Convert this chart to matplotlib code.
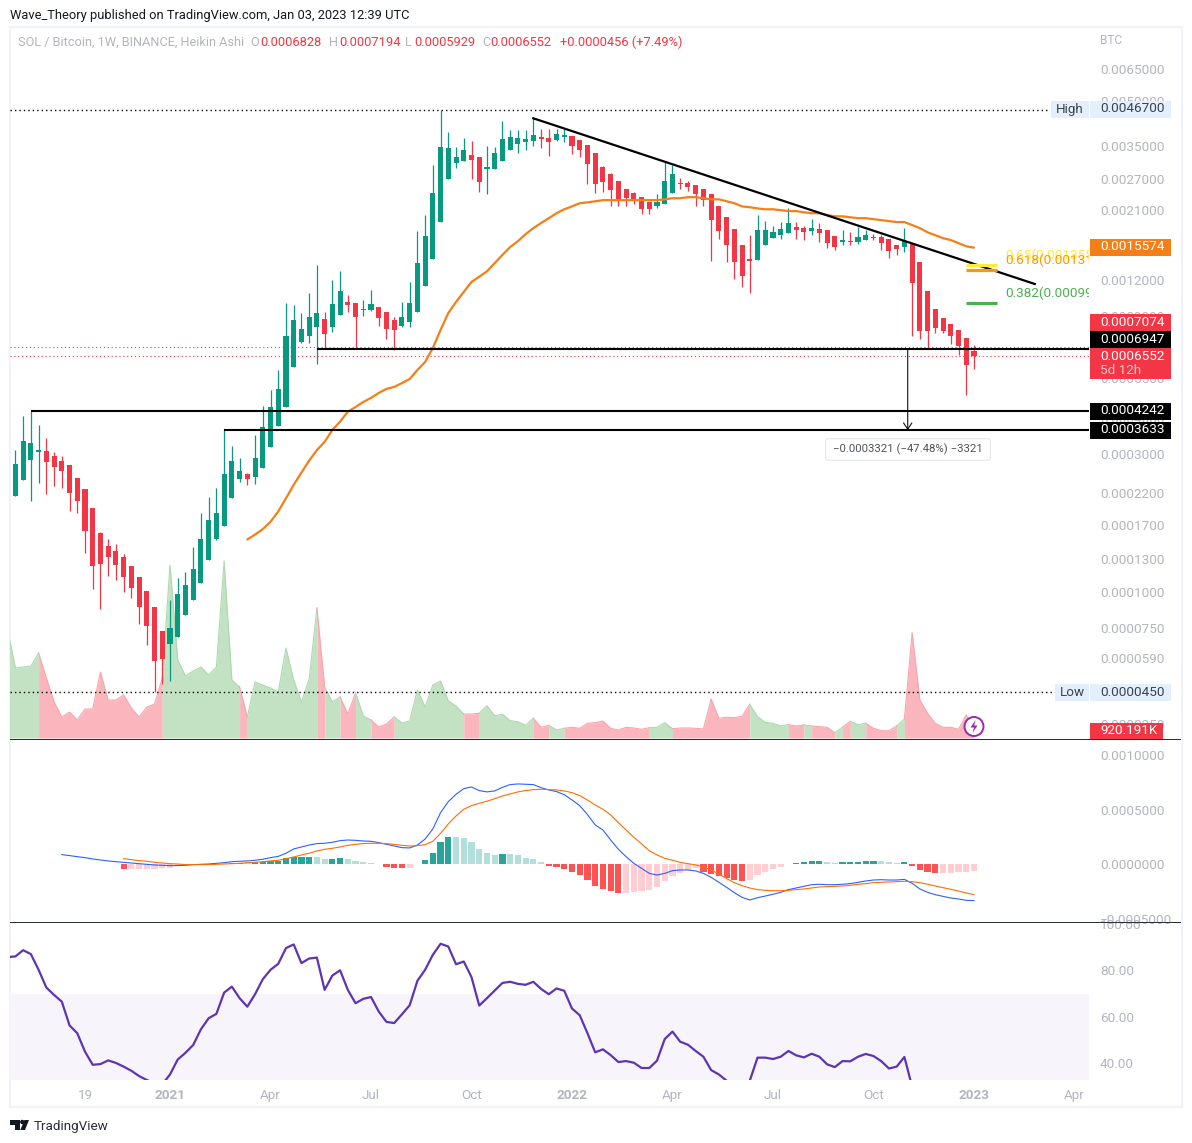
#!/usr/bin/env python3
"""SOL/BTC weekly Heikin Ashi chart with volume, MACD and RSI panes (TradingView look)."""
import numpy as np
import pandas as pd
import matplotlib
matplotlib.use("Agg")
import matplotlib.pyplot as plt
import matplotlib.dates as mdates
from matplotlib.patches import Rectangle, FancyBboxPatch, Circle, Polygon
from matplotlib.ticker import NullLocator

W, H = 1192, 1143
plt.rcParams["font.family"] = ["Roboto", "DejaVu Sans"]

# ---------- data (prices in 1e-4 BTC, first candle is cut by the left edge) ----------
week_dates = pd.date_range("2020-08-10", periods=126, freq="7D")

opens = [1.63, 2.15, 2.45, 2.87, 3.05, 3.08, 2.95, 2.85, 2.76, 2.49,
         2.28, 1.96, 1.60, 1.44, 1.39, 1.32, 1.23, 1.13, 1.01, 0.89,
         0.735, 0.66, 0.70, 0.835, 0.94, 1.07, 1.29, 1.53, 1.69, 2.12,
         2.47, 2.57, 2.51, 2.69, 3.18, 3.77, 4.37, 6.03, 7.34, 7.70,
         8.28, 8.82, 8.28, 9.1, 10.1, 10.0, 9.475, 9.475, 9.7, 9.32,
         8.75, 8.34, 8.61, 9.32, 11.47, 14.2, 19.1, 26.9, 30.55, 31.05,
         32.6, 32.1, 29.1, 29.1, 31.05, 33.9, 35.6, 36.2, 36.45, 37.6,
         37.3, 36.75, 37.6, 37.9, 36.75, 35.3, 33.1, 29.6, 28.0, 26.5,
         24.85, 24.05, 23.3, 22.35, 21.65, 22.0, 24.05, 26.1, 26.1, 25.65,
         24.85, 23.9, 21.65, 19.95, 18.05, 15.95, 14.2, 14.1, 15.9, 16.8,
         17.2, 17.5, 18.3, 18.2, 17.75, 18.05, 17.9, 17.05, 16.3, 16.4,
         16.3, 16.55, 17.0, 17.0, 16.7, 15.9, 15.65, 16.15, 13.85, 11.0,
         9.55, 8.9, 8.45, 8.08, 7.6, 6.828]
highs = [2.71, 3.10, 4.07, 4.24, 3.80, 3.41, 3.05, 2.95, 2.76, 2.49,
         2.28, 1.96, 1.61, 1.52, 1.46, 1.35, 1.23, 1.13, 1.01, 0.89,
         0.735, 0.94, 1.12, 1.17, 1.43, 1.88, 2.13, 2.30, 3.67, 3.20,
         2.92, 2.59, 3.50, 4.41, 5.01, 5.87, 10.0, 9.86, 9.25, 10.84,
         13.55, 9.32, 12.04, 12.9, 10.68, 10.0, 10.26, 11.11, 9.7, 9.32,
         8.96, 10.1, 11.85, 17.75, 20.2, 30.1, 46.7, 39.2, 34.8, 37.3,
         36.45, 32.1, 35.0, 34.8, 42.8, 39.8, 39.8, 39.8, 43.7, 40.1,
         40.1, 40.1, 40.1, 37.9, 36.75, 35.3, 33.1, 29.85, 28.2, 26.5,
         24.85, 24.25, 23.3, 22.35, 23.9, 30.8, 30.1, 27.1, 26.5, 25.65,
         24.85, 23.9, 21.65, 19.95, 18.05, 15.95, 17.2, 20.2, 19.25, 18.45,
         19.1, 21.35, 19.1, 18.45, 19.55, 18.95, 17.9, 17.05, 17.9, 17.6,
         18.3, 17.9, 17.35, 17.2, 16.7, 15.9, 18.2, 16.15, 13.85, 11.0,
         9.55, 8.9, 8.45, 8.08, 7.6, 7.194]
lows = [1.63, 2.15, 2.45, 2.06, 2.39, 2.19, 2.33, 2.30, 1.91, 1.87,
        1.36, 1.02, 0.87, 1.14, 1.10, 1.00, 0.955, 0.775, 0.655, 0.45,
        0.48, 0.49, 0.70, 0.835, 0.94, 1.07, 1.29, 1.51, 1.69, 2.12,
        2.41, 2.35, 2.37, 2.69, 3.18, 3.77, 4.37, 6.03, 7.28, 7.28,
        6.16, 7.0, 7.95, 9.1, 9.32, 7.0, 9.03, 9.40, 8.34, 7.52,
        6.89, 8.28, 8.28, 9.32, 11.47, 14.2, 19.1, 26.9, 29.4, 31.05,
        26.9, 24.25, 23.9, 29.1, 31.05, 33.9, 33.1, 33.9, 35.0, 34.5,
        32.4, 36.45, 36.2, 32.85, 32.1, 25.9, 24.05, 24.25, 21.8, 21.8,
        21.8, 22.0, 20.35, 20.35, 21.3, 22.0, 24.05, 24.85, 24.45, 21.8,
        21.8, 14.0, 16.7, 13.85, 12.15, 11.35, 10.85, 14.1, 15.9, 16.8,
        16.7, 17.5, 16.7, 16.55, 17.2, 16.3, 15.5, 15.3, 15.9, 15.9,
        16.0, 16.55, 16.55, 15.3, 14.3, 14.7, 15.05, 7.7, 7.52, 7.0,
        7.9, 7.9, 7.2, 6.6, 4.8, 5.929]
closes = [2.71, 2.78, 3.33, 3.28, 3.10, 2.82, 2.71, 2.63, 2.21, 2.06,
          1.63, 1.23, 1.25, 1.32, 1.24, 1.13, 1.03, 0.885, 0.765, 0.575,
          0.584, 0.75, 0.98, 1.06, 1.20, 1.53, 1.78, 1.88, 2.57, 2.85,
          2.63, 2.47, 2.92, 3.73, 4.37, 5.05, 7.70, 8.75, 8.15, 8.96,
          9.25, 7.82, 9.93, 11.02, 9.86, 8.96, 9.55, 9.93, 8.89, 8.15,
          8.08, 8.96, 10.0, 13.77, 17.06, 24.05, 34.8, 34.5, 32.1, 33.9,
          31.3, 26.3, 29.6, 33.1, 37.0, 37.6, 37.3, 37.0, 38.2, 37.0,
          36.2, 38.6, 38.2, 35.0, 33.9, 30.35, 25.9, 26.3, 24.65, 22.95,
          23.1, 22.55, 21.15, 21.15, 22.35, 26.5, 28.0, 25.9, 25.25, 23.9,
          22.75, 19.4, 17.75, 15.95, 13.85, 12.4, 14.0, 17.9, 17.9, 17.6,
          18.05, 18.95, 17.9, 17.6, 18.2, 17.5, 16.15, 15.65, 16.55, 16.3,
          17.0, 17.2, 16.8, 16.15, 15.2, 15.4, 16.4, 11.75, 8.0, 8.0,
          8.2, 8.0, 7.7, 7.1, 6.1, 6.552]
# volume, in thousands
volumes = [16520, 10710, 10860, 11020, 13000, 9180, 5510, 3210, 3980, 2750,
           4440, 4440, 10100, 5810, 5810, 6580, 4590, 3210, 4740, 5200,
           9180, 26470, 11930, 9490, 10250, 10860, 9640, 10860, 27080, 8870,
           7800, 3210, 8570, 8110, 7650, 7040, 13770, 8870, 5510, 9030,
           19890, 7800, 5510, 6270, 3670, 6890, 3370, 2750, 1680, 2140,
           3210, 2300, 2600, 7340, 4740, 8110, 8720, 5660, 4900, 3670,
           3670, 3780, 4940, 3410, 3630, 2650, 2490, 1940, 3010, 1640,
           1940, 1220, 1480, 1640, 1480, 2250, 2340, 2600, 1480, 1220,
           1640, 1530, 1330, 1580, 1640, 2340, 1420, 1530, 1530, 1480,
           1380, 5970, 3010, 3170, 3110, 3320, 5160, 3260, 2400, 2250,
           1840, 2030, 1840, 1990, 1840, 1730, 1640, 810, 1640, 2550,
           2030, 2250, 1480, 1120, 1120, 1840, 2910, 16110, 5810, 3780,
           2250, 1640, 1640, 1330, 3560, 920.191]
# moving average, last 95 weeks
ma_line = [1.52, 1.58, 1.65, 1.75, 1.90, 2.11, 2.35, 2.59, 2.85, 3.10,
           3.31, 3.64, 3.89, 4.21, 4.37, 4.55, 4.70, 4.89, 5.05, 5.13,
           5.29, 5.46, 5.87, 6.26, 7.0, 8.08, 9.25, 10.1, 10.94, 11.85,
           12.35, 12.9, 13.77, 14.7, 15.65, 16.4, 17.35, 18.2, 18.95, 19.7,
           20.5, 21.15, 21.65, 22.2, 22.35, 22.55, 22.75, 22.75, 22.75, 22.75,
           22.75, 22.75, 22.75, 22.75, 22.9, 23.1, 23.1, 23.3, 23.3, 23.1,
           22.9, 22.9, 22.55, 22.2, 21.65, 21.5, 21.3, 21.15, 21.15, 21.0,
           20.85, 20.85, 20.65, 20.5, 20.5, 20.2, 20.0, 20.0, 19.85, 19.7,
           19.7, 19.55, 19.4, 19.25, 19.1, 19.1, 18.65, 18.2, 17.6, 17.2,
           16.8, 16.55, 16.15, 15.75, 15.574]
# MACD in 1e-4, last 119 weeks
macd_line = [0.89, 0.80, 0.70, 0.61, 0.49, 0.40, 0.31, 0.24, 0.18, 0.12,
             0.06, 0.0, -0.06, -0.09, -0.12, -0.12, -0.09, -0.03, 0.0, 0.03,
             0.09, 0.15, 0.24, 0.28, 0.31, 0.37, 0.46, 0.61, 0.73, 1.01,
             1.41, 1.59, 1.77, 1.90, 1.93, 2.02, 2.17, 2.23, 2.20, 2.14,
             2.11, 1.99, 1.83, 1.68, 1.53, 1.50, 1.77, 2.32, 3.24, 4.74,
             5.75, 6.42, 6.94, 7.09, 6.76, 6.64, 6.73, 7.06, 7.31, 7.37,
             7.34, 7.31, 7.03, 6.82, 6.67, 6.39, 5.90, 5.38, 4.56, 3.61,
             3.15, 2.23, 1.38, 0.70, 0.09, -0.37, -0.83, -0.98, -0.83, -0.58,
             -0.52, -0.52, -0.61, -0.83, -1.19, -1.65, -2.11, -2.60, -3.03, -3.27,
             -3.06, -2.91, -2.75, -2.57, -2.32, -2.17, -2.02, -1.87, -1.83, -1.87,
             -1.87, -1.83, -1.77, -1.65, -1.53, -1.44, -1.41, -1.44, -1.44, -1.38,
             -1.74, -2.26, -2.57, -2.78, -2.94, -3.09, -3.18, -3.30, -3.33]
# signal and histogram, last 111 weeks
signal_line = [0.52, 0.43, 0.34, 0.28, 0.18, 0.12, 0.06, 0.03, -0.03, -0.03,
               -0.03, -0.03, 0.0, 0.03, 0.06, 0.09, 0.15, 0.18, 0.24, 0.31,
               0.37, 0.52, 0.67, 0.86, 1.01, 1.22, 1.38, 1.47, 1.59, 1.74,
               1.83, 1.90, 1.93, 1.93, 1.90, 1.83, 1.74, 1.68, 1.71, 1.80,
               2.11, 2.84, 3.70, 4.43, 5.05, 5.38, 5.60, 5.78, 6.02, 6.27,
               6.45, 6.64, 6.76, 6.85, 6.88, 6.85, 6.82, 6.73, 6.57, 6.30,
               5.90, 5.44, 5.05, 4.53, 3.82, 3.15, 2.48, 1.87, 1.25, 0.86,
               0.55, 0.37, 0.18, 0.06, -0.06, -0.24, -0.52, -0.89, -1.31, -1.68,
               -1.96, -2.17, -2.32, -2.39, -2.42, -2.42, -2.39, -2.32, -2.26, -2.17,
               -2.08, -2.05, -2.02, -1.99, -1.93, -1.83, -1.77, -1.68, -1.65, -1.62,
               -1.59, -1.56, -1.59, -1.68, -1.83, -1.99, -2.14, -2.29, -2.45, -2.63,
               -2.78]
macd_hist = [-0.43, -0.43, -0.43, -0.43, -0.43, -0.34, -0.34, -0.15, -0.09, -0.05,
             -0.03, -0.02, 0.03, 0.06, 0.09, 0.09, 0.15, 0.21, 0.24, 0.31,
             0.34, 0.55, 0.70, 0.70, 0.70, 0.70, 0.49, 0.49, 0.58, 0.49,
             0.31, 0.21, 0.12, 0.03, -0.21, -0.34, -0.34, -0.34, 0.03, 0.40,
             1.04, 2.05, 2.51, 2.51, 2.42, 2.05, 1.41, 1.04, 0.86, 0.95,
             0.95, 0.86, 0.58, 0.49, 0.21, -0.15, -0.24, -0.43, -0.70, -0.98,
             -1.44, -1.99, -2.26, -2.45, -2.63, -2.63, -2.54, -2.45, -2.35, -2.08,
             -1.53, -1.07, -0.80, -0.52, -0.34, -0.70, -0.89, -1.07, -1.25, -1.44,
             -1.53, -1.44, -0.98, -0.70, -0.43, -0.24, 0.03, 0.12, 0.21, 0.31,
             0.31, 0.21, 0.12, 0.21, 0.21, 0.21, 0.31, 0.31, 0.31, 0.21,
             0.12, 0.21, -0.15, -0.52, -0.70, -0.80, -0.80, -0.80, -0.70, -0.70,
             -0.61]
hist_tags = ("r" + "p" * 11 + "g" * 4 + "l" + "g" * 8 + "l" * 2 + "g" * 2 + "l" * 5
             + "r" * 3 + "p" + "g" * 5 + "l" * 6 + "g" + "l" * 5 + "r" * 10 + "p" * 10
             + "r" * 6 + "p" * 5 + "g" * 5 + "l" * 2 + "g" * 5 + "l" * 3 + "g"
             + "r" * 4 + "p" * 5)
rsi_line = [85.8, 86.1, 88.8, 87.1, 80.3, 72.6, 69.4, 66.5, 56.2, 52.8,
            44.8, 39.1, 39.4, 41.0, 39.9, 38.3, 36.5, 34.2, 32.5, 31.0,
            30.6, 34.9, 41.4, 44.3, 47.7, 54.5, 59.3, 61.2, 70.4, 73.0,
            68.0, 64.3, 69.7, 76.2, 80.3, 82.9, 89.7, 91.3, 83.2, 85.2,
            85.6, 71.6, 77.8, 80.1, 71.6, 65.8, 67.7, 68.5, 62.2, 57.7,
            57.2, 61.0, 64.9, 75.5, 80.3, 86.8, 91.6, 90.4, 82.7, 83.9,
            77.1, 64.8, 68.0, 71.3, 74.6, 75.1, 74.2, 73.8, 75.1, 72.0,
            69.7, 72.2, 71.2, 63.5, 60.6, 52.8, 44.5, 45.8, 43.3, 40.3,
            40.7, 40.0, 37.7, 37.7, 40.9, 50.3, 53.5, 49.1, 47.8, 45.1,
            42.6, 36.8, 34.9, 32.2, 28.1, 26.7, 32.2, 42.2, 42.2, 41.6,
            42.6, 45.1, 43.2, 42.3, 43.9, 42.6, 39.3, 38.1, 40.7, 40.6,
            42.6, 43.8, 42.9, 40.7, 37.5, 38.3, 42.5, 29.6, 27.0, 26.0,
            25.0, 25.0, 25.0, 24.0, 23.0, 24.0]

price_ticks = [0.0065, 0.005, 0.0035, 0.0027, 0.0021, 0.0016, 0.0012, 0.0009, 0.0007,
               0.00055, 0.0004, 0.0003, 0.00022, 0.00017, 0.00013, 0.0001, 0.000075,
               0.000059, 0.000045, 0.000035]
macd_ticks = [0.001, 0.0005, 0.0, -0.0005]
rsi_ticks = [100, 80, 60, 40]
time_ticks = ["2020-10-19", "2021-01-04", "2021-04-05", "2021-07-05", "2021-10-04", "2022-01-03",
              "2022-04-04", "2022-07-04", "2022-10-03", "2023-01-02", "2023-04-03"]
time_labels = ["19", "2021", "Apr", "Jul", "Oct", "2022", "Apr", "Jul", "Oct", "2023", "Apr"]

fib_levels = [("0.65(0.0013558)", 0.001352, "#ffeb3b", 255),
              ("0.618(0.0013138)", 0.001303, "#ff9800", 260),
              ("0.382(0.0009946)", 0.000998, "#4caf50", 293)]
all_high, all_low = 0.00467, 0.000045
last_close, prev_level = 0.0006552, 0.0007074
supports = [(0.0006947, "2021-05-17"), (0.0004242, "2020-08-31"), (0.0003633, "2021-02-22")]

# ---------- colours ----------
UP = "#089981"; DOWN = "#f23645"; GREY = "#b2b5be"; INK = "#131722"
VOL_UP = "#c3e2c4"; VOL_DOWN = "#fab6bc"; VOL_UP_E = "#add8af"; VOL_DOWN_E = "#f7a5ad"
HIST = {"g": "#26a69a", "l": "#b2dfdb", "r": "#ff5252", "p": "#ffcdd2"}
TAG_BLUE = "#e3effd"; FS = 9.7

x = mdates.date2num(week_dates)
o, h, l, c = [np.array(a) * 1e-4 for a in (opens, highs, lows, closes)]
vol = np.array(volumes)
is_up = c >= o
cols = [UP if u else DOWN for u in is_up]

fig = plt.figure(figsize=(W / 100, H / 100), dpi=100, facecolor="white")
T = fig.transFigure


def pane(x0, y0, x1, y1, **kw):
    return fig.add_axes([x0 / W, 1 - y1 / H, (x1 - x0) / W, (y1 - y0) / H], **kw)


def rect(x0, y0, x1, y1, z=10, **kw):
    fig.add_artist(Rectangle((x0 / W, 1 - y1 / H), (x1 - x0) / W, (y1 - y0) / H,
                             transform=T, zorder=z, **kw))


def txt(px, py, s, color=GREY, size=FS, z=11, **kw):
    kw.setdefault("va", "center")
    fig.text(px / W, 1 - py / H, s, color=color, fontsize=size, zorder=z, **kw)


def clean(ax):
    for sp in ax.spines.values():
        sp.set_visible(False)
    ax.set_facecolor("none")
    ax.tick_params(length=0)
    ax.set_xlim(mdates.date2num(pd.Timestamp("2023-01-02")) - 124.7 * 7,
                mdates.date2num(pd.Timestamp("2023-01-02")) + 14.88 * 7)


def right_ticks(ax, ticks, labels):
    ax.yaxis.tick_right()
    ax.set_yticks(ticks)
    ax.set_yticklabels(labels, color=GREY, fontsize=FS, va="center_baseline")
    ax.yaxis.set_minor_locator(NullLocator())
    ax.tick_params(axis="y", pad=7.9, length=0)
    ax.set_xticks([])


# ---------- frame ----------
rect(9.5, 26.5, 1181.5, 1107, z=-1, facecolor="white", edgecolor="#f0f3fa", linewidth=1.6)

# ---------- volume: each stretch of same-coloured candles is one fill ----------
ax_vol = pane(10, 28, 1089, 739, zorder=1)
clean(ax_vol)
ax_vol.set_ylim(-153, 710 * 153)
start = 0
for i in range(1, len(x) + 1):
    if i == len(x) or is_up[i] != is_up[start + 1 if start + 1 < len(x) else start]:
        if i > start:
            run_up = is_up[start + 1 if start + 1 < len(x) else start]
            ax_vol.fill_between(x[start:i], 0, vol[start:i], color=VOL_UP if run_up else VOL_DOWN,
                                linewidth=0)
            ax_vol.plot(x[start:i], vol[start:i], color=VOL_UP_E if run_up else VOL_DOWN_E, lw=0.8)
        start = i - 1
ax_vol.set_xticks([]); ax_vol.set_yticks([])

# ---------- price ----------
ax = pane(10, 28, 1089, 739, zorder=2)
clean(ax)
ax.set_yscale("log")
ax.set_ylim(0.00003095, 0.00898)
right_ticks(ax, price_ticks, [f"{t:.7f}" for t in price_ticks])

ax.vlines(x, l, h, colors=cols, lw=0.9, zorder=3)
ax.bar(x, np.abs(c - o), bottom=np.minimum(o, c), width=4.6, color=cols, linewidth=0, zorder=4)
ax.plot(x[-len(ma_line):], np.array(ma_line) * 1e-4, color="#f57f17", lw=1.6, zorder=5,
        solid_capstyle="round")

ax.axhline(all_high, xmax=(1050 - 10) / 1079, color="black", lw=1, ls=(0, (1, 2.2)), zorder=2)
ax.axhline(all_low, xmax=(1055 - 10) / 1079, color="black", lw=1, ls=(0, (1, 2.2)), zorder=6)
for lev in (prev_level, last_close):
    ax.axhline(lev, color=DOWN, lw=0.8, ls=(0, (1, 2.5)), zorder=2)

for lev, since in supports:
    ax.plot([mdates.date2num(pd.Timestamp(since)), ax.get_xlim()[1]], [lev, lev],
            color="black", lw=1.5, zorder=6, solid_capstyle="butt")

trend_dates = mdates.date2num(pd.to_datetime(["2021-11-29", "2023-02-26"]))
ax.plot(trend_dates, [0.00437, 0.001166], color="black", lw=1.6, zorder=6)

fib_x = mdates.date2num(pd.to_datetime(["2022-12-26", "2023-01-23"]))
for name, lev, col, ty in fib_levels:
    ax.plot(fib_x, [lev, lev], color=col, lw=2.3, zorder=7, solid_capstyle="butt")
    t = fig.text(1005.5 / W, 1 - ty / H, name, color=col, fontsize=FS, va="center", zorder=3)
    t.set_clip_path(Rectangle((10 / W, 0), 1079 / W, 1, transform=T))
    t.set_clip_on(True)

meas_x = mdates.date2num(pd.Timestamp("2022-11-03"))
ax.annotate("", xy=(meas_x, 0.0003633), xytext=(meas_x, 0.0006947), zorder=7,
            arrowprops=dict(arrowstyle="->,head_length=0.45,head_width=0.3", color="#111111", lw=0.8,
                            shrinkA=0, shrinkB=0))

# measure box
fig.add_artist(FancyBboxPatch((828 / W, 1 - 458 / H), 160 / W, 17 / H, transform=T, zorder=9,
                              boxstyle="round,pad=0.002", facecolor="white",
                              edgecolor="#e6e7ea", linewidth=0.8))
txt(908, 449.5, "\u22120.0003321 (\u221247.48%) \u22123321", color="#50535e", size=8.2, ha="center")

# ---------- MACD ----------
ax_m = pane(10, 740, 1089, 922, zorder=1)
clean(ax_m)
ax_m.set_ylim(-0.000529, 0.00114)
right_ticks(ax_m, macd_ticks, ["0.0010000", "0.0005000", "0.0000000", "\u22120.0005000"])
ax_m.bar(x[-len(macd_hist):], np.array(macd_hist) * 1e-4, width=5.6,
         color=[HIST[k] for k in hist_tags], linewidth=0, zorder=2)
ax_m.plot(x[-len(macd_line):], np.array(macd_line) * 1e-4, color="#2962ff", lw=0.8, zorder=3)
ax_m.plot(x[-len(signal_line):], np.array(signal_line) * 1e-4, color="#ff6d00", lw=0.8, zorder=4)

# ---------- RSI ----------
ax_r = pane(10, 923, 1089, 1080, zorder=1)
clean(ax_r)
ax_r.set_ylim(32.5, 100.6)
right_ticks(ax_r, rsi_ticks, [f"{t:.2f}" for t in rsi_ticks])
ax_r.axhspan(30, 70, color="#f7f4fc", linewidth=0, zorder=1)
ax_r.plot(x[-len(rsi_line):], rsi_line, color="#5e35b1", lw=1.6, zorder=3)
ax_r.set_xticks(mdates.date2num(pd.to_datetime(time_ticks)))
ax_r.set_xticklabels(time_labels, color=GREY, fontsize=FS)
for lab, s in zip(ax_r.get_xticklabels(), time_labels):
    if s.isdigit() and len(s) == 4:
        lab.set_fontweight("bold")
ax_r.tick_params(axis="x", pad=6.5, length=0)

# ---------- separators ----------
rect(10, 738.6, 1181, 739.6, z=8, facecolor="#2a2e39", linewidth=0)
rect(10, 921.9, 1181, 922.9, z=8, facecolor="#2a2e39", linewidth=0)

# ---------- price tags ----------
def tag(y0, y1, s, bg, fg="white", x1=1171):
    rect(1090, y0, x1, y1, facecolor=bg, linewidth=0)
    txt(1100, (y0 + y1) / 2 - 0.5, s, color=fg)


rect(1051, 101, 1089, 118, facecolor=TAG_BLUE, linewidth=0)
txt(1070, 109, "High", color="#3c4150", ha="center")
tag(101, 118, "0.0046700", TAG_BLUE, "#3c4150")
tag(239, 256, "0.0015574", "#f57f17")
tag(314, 331, "0.0007074", DOWN)
tag(331, 348, "0.0006947", "#000000")
rect(1090, 348, 1171, 379, facecolor=DOWN, linewidth=0)
txt(1100, 356, "0.0006552", color="white")
txt(1100, 370.5, "5d 12h", color="#fbc4ca")
tag(403, 420, "0.0004242", "#000000")
tag(422, 439, "0.0003633", "#000000")
rect(1055, 684, 1089, 701, facecolor=TAG_BLUE, linewidth=0)
txt(1072, 692, "Low", color="#3c4150", ha="center")
tag(684, 701, "0.0000450", TAG_BLUE, "#3c4150")
tag(723, 738.5, "920.191K", DOWN, x1=1163)

# ---------- header + legend ----------
txt(10, 15.5, "Wave_Theory published on TradingView.com, Jan 03, 2023 12:39 UTC", color=INK, size=9.3)
txt(18, 42.5, "SOL / Bitcoin, 1W, BINANCE, Heikin Ashi", size=9.2)
for px, s in [(250.5, "O"), (329, "H"), (405.5, "L"), (482, "C")]:
    txt(px, 42.5, s, size=9.2)
for px, s in [(260, "0.0006828"), (339, "0.0007194"), (414.5, "0.0005929"), (490.5, "0.0006552"),
              (559.5, "+0.0000456 (+7.49%)")]:
    txt(px, 42.5, s, color=DOWN, size=9.25)
txt(1100, 41, "BTC", size=8.6)

# ---------- lightning badge ----------
fig.add_artist(Circle((974 / 100, (H - 726.5) / 100), 9.5 / 100, transform=fig.dpi_scale_trans,
                      zorder=9, facecolor="white", edgecolor="#9c27b0", linewidth=1.4))
bolt = [(975.5, 720), (970.5, 727.5), (974, 727.5), (972.5, 733), (977.5, 725.5), (974.2, 725.5)]
fig.add_artist(Polygon([(a / W, 1 - b / H) for a, b in bolt], closed=True, transform=T, zorder=10,
                       facecolor="#9c27b0", linewidth=0))

# ---------- logo ----------
for poly in ([(10, 1120), (19.5, 1120), (19.5, 1130), (14.5, 1130), (14.5, 1124.5), (10, 1124.5)],
             [(29, 1120), (25, 1130), (20.3, 1130), (24.4, 1120)]):
    fig.add_artist(Polygon([(a / W, 1 - b / H) for a, b in poly], closed=True, transform=T,
                           zorder=10, facecolor="#131722", linewidth=0))
fig.add_artist(Circle((22.3 / 100, (H - 1122) / 100), 2.2 / 100, transform=fig.dpi_scale_trans,
                      zorder=10, facecolor="#131722", linewidth=0))
txt(33.5, 1126.5, "TradingView", color="#2a2e39", size=9.7)

fig.savefig("out.png", dpi=100, facecolor="white")
print("ok", len(opens), len(highs), len(lows), len(closes), len(volumes), len(rsi_line),
      len(ma_line), len(macd_line), len(signal_line), len(macd_hist), len(hist_tags))
